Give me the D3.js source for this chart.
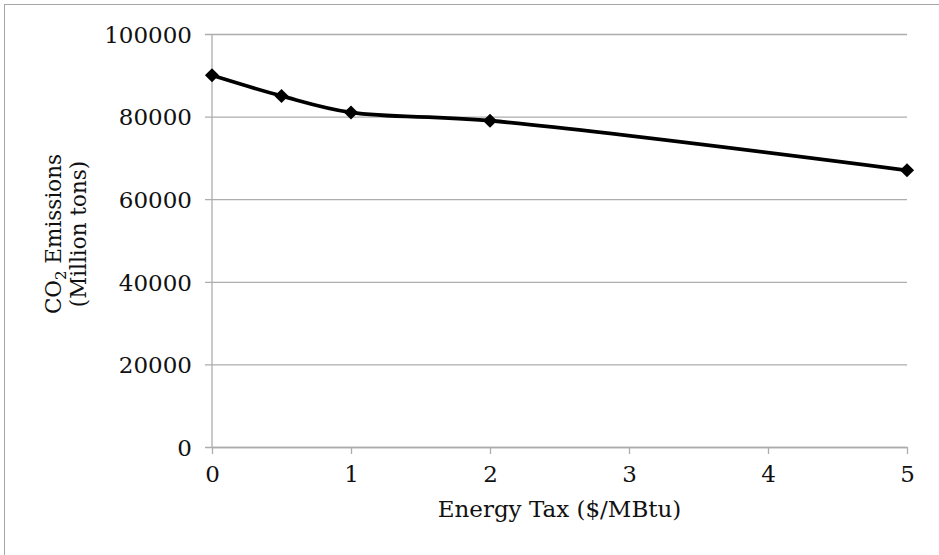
<!DOCTYPE html>
<html>
<head>
<meta charset="utf-8" />
<title>CO2 Emissions vs Energy Tax</title>
<script src="https://cdn.jsdelivr.net/npm/d3@7"></script>
<style>
    html, body { margin: 0; padding: 0; background: #fff; }
    svg text { font-family: "DejaVu Serif", "Liberation Serif", serif; fill: #111; }
</style>
</head>
<body>
<svg width="939" height="555"></svg>
<script>
    // data
    var taxValues = [0, 0.5, 1, 2, 5];
    var emissionValues = [90000, 85000, 81000, 79000, 67000];
    var xTicks = [0, 1, 2, 3, 4, 5];
    var yTicks = [0, 20000, 40000, 60000, 80000, 100000];

    var svg = d3.select("svg");
    var plotLeft = 212, plotRight = 907, plotTop = 34, plotBottom = 447;

    var x = d3.scaleLinear().domain([0, 5]).range([plotLeft, plotRight]);
    var y = d3.scaleLinear().domain([0, 100000]).range([plotBottom, plotTop]);

    // outer chart border (only top and left fall inside the picture)
    svg.append("rect")
        .attr("x", 4.5).attr("y", 4.5)
        .attr("width", 1000).attr("height", 1000)
        .attr("fill", "none").attr("stroke", "#a6a6a6");

    // horizontal gridlines + y axis
    var yAxis = d3.axisLeft(y).tickValues(yTicks)
        .tickSize(-(plotRight - plotLeft)).tickPadding(20)
        .tickFormat(d3.format("d"));
    var gy = svg.append("g").attr("transform", "translate(" + plotLeft + ",0)").call(yAxis);
    gy.select(".domain").remove();
    gy.selectAll(".tick line").attr("stroke", "#adadad").attr("stroke-width", 1.3)
        .attr("x1", -7);
    gy.selectAll(".tick text").attr("font-size", 23).attr("dy", "0.36em");

    svg.append("line")
        .attr("x1", plotLeft).attr("x2", plotLeft).attr("y1", plotTop).attr("y2", plotBottom)
        .attr("stroke", "#adadad").attr("stroke-width", 1.3);

    // x axis
    var xAxis = d3.axisBottom(x).tickValues(xTicks).tickSize(7).tickPadding(12)
        .tickSizeOuter(0).tickFormat(d3.format("d"));
    var gx = svg.append("g").attr("transform", "translate(0," + plotBottom + ")").call(xAxis);
    gx.select(".domain").attr("stroke", "#adadad").attr("stroke-width", 1.3);
    gx.selectAll(".tick line").attr("stroke", "#adadad").attr("stroke-width", 1.3);
    gx.selectAll(".tick text").attr("font-size", 23);

    // axis titles
    svg.append("text")
        .attr("x", (plotLeft + plotRight) / 2).attr("y", 517)
        .attr("text-anchor", "middle").attr("font-size", 23)
        .text("Energy Tax ($/MBtu)");

    var yt = svg.append("text")
        .attr("transform", "translate(61,234) rotate(-90)")
        .attr("text-anchor", "middle").attr("font-size", 21.5);
    yt.append("tspan").attr("x", 0).attr("dy", 0).text("CO");
    yt.append("tspan").attr("font-size", 15).attr("dy", 5).text("2");
    yt.append("tspan").attr("dy", -5).text(" Emissions");
    yt.append("tspan").attr("x", 0).attr("dy", 25).text("(Million tons)");

    // series
    var pts = taxValues.map(function (t, i) { return [t, emissionValues[i]]; });

    var line = d3.line()
        .x(function (d) { return x(d[0]); })
        .y(function (d) { return y(d[1]); })
        .curve(d3.curveCatmullRom.alpha(0.5));

    svg.append("path").datum(pts)
        .attr("d", line)
        .attr("fill", "none").attr("stroke", "#000")
        .attr("stroke-width", 3.8).attr("stroke-linejoin", "round");

    svg.append("g").selectAll("path")
        .data(pts).enter().append("path")
        .attr("d", d3.symbol().type(d3.symbolSquare).size(100))
        .attr("transform", function (d) { return "translate(" + x(d[0]) + "," + y(d[1]) + ") rotate(45)"; })
        .attr("fill", "#000");
</script>
</body>
</html>
